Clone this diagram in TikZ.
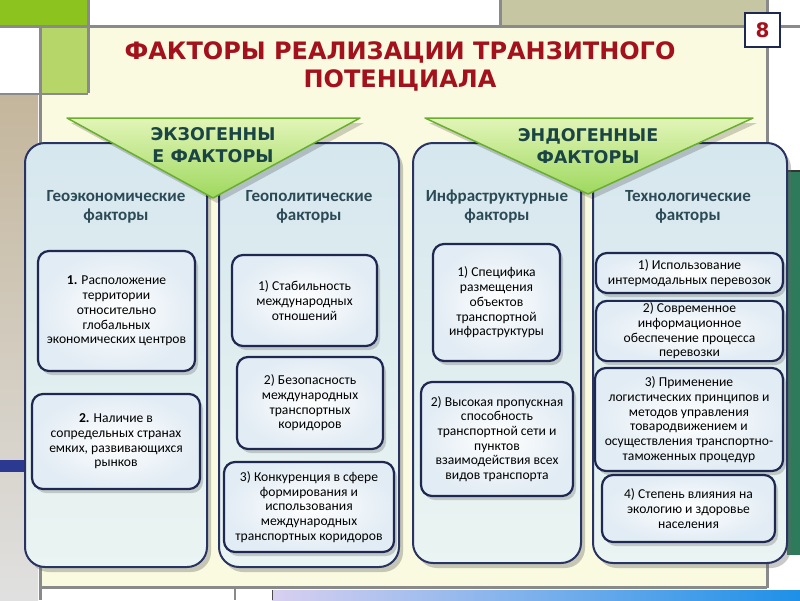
\documentclass[tikz,border=0pt]{standalone}
\usepackage{fontspec}
\setmainfont{Carlito}
\newfontfamily\dejavu{DejaVu Sans}
\usetikzlibrary{shadows}
\definecolor{bgyellow}{RGB}{250,250,224}
\definecolor{limegr}{RGB}{141,195,31}
\definecolor{lightgr}{RGB}{183,214,106}
\definecolor{khaki}{RGB}{198,198,162}
\definecolor{tanc}{RGB}{196,182,156}
\definecolor{greyline}{RGB}{138,138,138}
\definecolor{navybar}{RGB}{43,57,144}
\definecolor{darkgreen}{RGB}{46,123,92}
\definecolor{lavender}{RGB}{216,208,240}
\definecolor{brightblue}{RGB}{30,144,232}
\definecolor{colborder}{RGB}{42,52,98}
\definecolor{colTop}{RGB}{214,231,238}
\definecolor{colBot}{RGB}{234,244,242}
\definecolor{boxborder}{RGB}{30,40,80}
\definecolor{boxedge}{RGB}{226,236,244}
\definecolor{headcol}{RGB}{43,74,85}
\definecolor{tritext}{RGB}{27,69,69}
\definecolor{titlered}{RGB}{163,18,28}
\definecolor{triTop}{RGB}{226,245,184}
\definecolor{triBot}{RGB}{158,216,94}
\definecolor{triedge}{RGB}{106,174,46}
\begin{document}
\begin{tikzpicture}[x=1pt,y=-1pt,
  gline/.style={draw=greyline,line width=3pt},
  colbox/.style={draw=colborder,line width=2pt,rounded corners=20pt,
    top color=colTop,bottom color=colBot,
    drop shadow={shadow xshift=4pt,shadow yshift=-5pt,opacity=.35,fill=black!60}},
  ibox/.style={draw=boxborder,line width=2.2pt,rounded corners=11pt,
    inner color=white,outer color=boxedge,align=center,inner sep=2pt,
    font=\fontsize{13.6}{14.7}\selectfont,text=black,
    drop shadow={shadow xshift=3pt,shadow yshift=-4pt,opacity=.3,fill=black!60}},
  head/.style={align=center,text=headcol,font=\bfseries\fontsize{17}{19}\selectfont},
  tritxt/.style={align=center,text=tritext,font=\dejavu\bfseries\fontsize{17.5}{21.5}\selectfont},
  tri/.style={draw=triedge,line width=1.5pt,line join=round,top color=triTop,bottom color=triBot}
]
\useasboundingbox (0,0) rectangle (800,600);
% background
\fill[white] (0,0) rectangle (800,600);
\fill[bgyellow] (40,26) rectangle (767,587);
\fill[limegr] (0,0) rectangle (88,25);
\fill[white] (0,28) rectangle (38,93);
\fill[lightgr] (42,28) rectangle (88,93);
\fill[khaki] (500,0) rectangle (766,25);
\shade[top color=tanc,bottom color=black!12] (0,95) rectangle (38,600);
\fill[navybar] (0,460) rectangle (25,472);
\fill[darkgreen] (787,172) rectangle (800,555);
\draw[black!80,line width=1.5pt] (770,171) -- (800,171);
\shade[left color=lavender,right color=brightblue] (272,590) rectangle (800,600);
\draw[gline] (0,26.5) -- (800,26.5);
\draw[gline] (88,0) -- (88,93);
\draw[greyline,line width=1.5pt] (0,94) -- (88,94);
\draw[gline] (40,26) -- (40,600);
\draw[gline] (500,0) -- (500,26);
\draw[gline] (767,0) -- (767,588);
\draw[gline] (40,587) -- (767,587);
\draw[greyline,line width=1.5pt] (235,587) -- (235,600);
\draw[black!70,line width=1pt] (272,590) -- (272,600);
% title
\node[align=center,text=titlered,font=\dejavu\bfseries\fontsize{24}{28}\selectfont] (title) at (400,66) {ФАКТОРЫ РЕАЛИЗАЦИИ ТРАНЗИТНОГО\\ПОТЕНЦИАЛА};
\node[draw=boxborder,line width=1.5pt,fill=white,minimum width=35,minimum height=34,inner sep=0pt,
  text=titlered,font=\dejavu\bfseries\fontsize{20}{24}\selectfont] (num) at (762.5,30) {8};
% columns
\node[colbox,minimum width=182,minimum height=424] (c1) at (116,355) {};
\node[colbox,minimum width=180,minimum height=424] (c2) at (309,355) {};
\node[colbox,minimum width=168,minimum height=420] (c3) at (497,353) {};
\node[colbox,minimum width=194,minimum height=420] (c4) at (690,353) {};
% triangles
\fill[black,opacity=.18] (71,123) -- (364,123) -- (217,203) -- cycle;
\fill[black,opacity=.18] (429,123) -- (757,123) -- (592,199) -- cycle;
\path[tri] (67,118) -- (360,118) -- (213,198) -- cycle;
\path[tri] (425,118) -- (753,118) -- (588,194) -- cycle;
\node[tritxt] (exo) at (213,145) {ЭКЗОГЕННЫ\\Е ФАКТОРЫ};
\node[tritxt] (endo) at (588,146) {ЭНДОГЕННЫЕ\\ФАКТОРЫ};
% headings
\node[head] (h1) at (116,207) {Геоэкономические\\факторы};
\node[head] (h2) at (309,207) {Геополитические\\факторы};
\node[head] (h3) at (497,207) {Инфраструктурные\\факторы};
\node[head] (h4) at (688,207) {Технологические\\факторы};
% inner boxes
\node[ibox,minimum width=157,minimum height=120] (g1) at (116.5,311) {\textbf{1.} Расположение\\территории\\относительно\\глобальных\\экономических центров};
\node[ibox,minimum width=168,minimum height=95] (g2) at (116,441.5) {\textbf{2.} Наличие в\\сопредельных странах\\емких, развивающихся\\рынков};
\node[ibox,minimum width=145,minimum height=91] (p1) at (304.5,300.5) {1) Стабильность\\международных\\отношений};
\node[ibox,minimum width=146,minimum height=92] (p2) at (310,403) {2) Безопасность\\международных\\транспортных\\коридоров};
\node[ibox,minimum width=170,minimum height=90] (p3) at (309,507) {3) Конкуренция в сфере\\формирования и\\использования\\международных\\транспортных коридоров};
\node[ibox,minimum width=127,minimum height=117] (i1) at (496.5,302.5) {1) Специфика\\размещения\\объектов\\транспортной\\инфраструктуры};
\node[ibox,minimum width=152,minimum height=114] (i2) at (497,439) {2) Высокая пропускная\\способность\\транспортной сети и\\пунктов\\взаимодействия всех\\видов транспорта};
\node[ibox,minimum width=187,minimum height=40] (t1) at (689.5,273) {1) Использование\\интермодальных перевозок};
\node[ibox,minimum width=187,minimum height=58] (t2) at (689.5,331) {2) Современное\\информационное\\обеспечение процесса\\перевозки};
\node[ibox,minimum width=188,minimum height=103] (t3) at (689,419.5) {3) Применение\\логистических принципов и\\методов управления\\товародвижением и\\осуществления транспортно-\\таможенных процедур};
\node[ibox,minimum width=173,minimum height=67] (t4) at (688.5,508.5) {4) Степень влияния на\\экологию и здоровье\\населения};
\end{tikzpicture}
\end{document}
